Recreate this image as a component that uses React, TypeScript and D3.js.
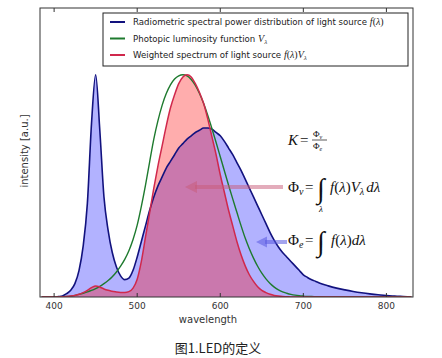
import React from "react";
import * as d3 from "d3";

const WAVELENGTH = [
  385, 390, 395, 400, 405, 410, 415, 420, 425, 430, 435, 440, 445, 450, 455, 460, 465, 470, 475, 480,
  485, 490, 495, 500, 505, 510, 515, 520, 525, 530, 535, 540, 545, 550, 555, 560, 565, 570, 575, 580,
  585, 590, 595, 600, 605, 610, 615, 620, 625, 630, 635, 640, 645, 650, 655, 660, 665, 670, 675, 680,
  685, 690, 695, 700, 705, 710, 715, 720, 730, 740, 750, 760, 770, 780, 790, 800, 810, 820, 830,
];

// Radiometric spectral power distribution f(λ)
const SPD = [
  0, 0, 0, 0, 0.002, 0.005, 0.015, 0.03, 0.06, 0.12, 0.23, 0.42, 0.78, 1.0, 0.75, 0.45, 0.3, 0.2, 0.135, 0.095,
  0.078, 0.085, 0.12, 0.18, 0.25, 0.32, 0.39, 0.45, 0.5, 0.54, 0.58, 0.61, 0.64, 0.67, 0.69, 0.71, 0.725, 0.74, 0.75, 0.76,
  0.76, 0.755, 0.74, 0.725, 0.7, 0.67, 0.64, 0.605, 0.57, 0.53, 0.49, 0.45, 0.41, 0.37, 0.33, 0.29, 0.255, 0.225, 0.2, 0.18,
  0.16, 0.14, 0.12, 0.1, 0.088, 0.078, 0.07, 0.062, 0.05, 0.04, 0.032, 0.025, 0.019, 0.014, 0.01, 0.007, 0.004, 0.002, 0,
];

// Photopic luminosity function V(λ)
const PHOTOPIC = [
  0.00006, 0.00012, 0.00022, 0.0004, 0.00064, 0.0012, 0.00218, 0.004, 0.0073, 0.0116, 0.01684, 0.023, 0.0298, 0.038, 0.048, 0.06, 0.0739, 0.091, 0.1126, 0.139,
  0.1693, 0.208, 0.2586, 0.323, 0.4073, 0.503, 0.6082, 0.71, 0.7932, 0.862, 0.9149, 0.954, 0.9803, 0.995, 1.0, 0.995, 0.9786, 0.952, 0.9154, 0.87,
  0.8163, 0.757, 0.6949, 0.631, 0.5668, 0.503, 0.4412, 0.381, 0.321, 0.265, 0.217, 0.175, 0.1382, 0.107, 0.0816, 0.061, 0.0446, 0.032, 0.0232, 0.017,
  0.0119, 0.0082, 0.0057, 0.0041, 0.0029, 0.0021, 0.0015, 0.001, 0.0005, 0.00025, 0.00012, 0.00006, 0, 0, 0, 0, 0, 0, 0,
];

// Weighted spectrum f(λ)V(λ)
const WEIGHTED = [
  0, 0, 0, 0, 0, 0.001, 0.002, 0.004, 0.007, 0.012, 0.02, 0.03, 0.042, 0.05, 0.045, 0.036, 0.03, 0.026, 0.022, 0.02,
  0.02, 0.024, 0.04, 0.08, 0.16, 0.27, 0.38, 0.49, 0.59, 0.68, 0.77, 0.85, 0.91, 0.96, 0.99, 1.0, 0.99, 0.96, 0.92, 0.87,
  0.8, 0.72, 0.64, 0.55, 0.47, 0.39, 0.32, 0.25, 0.19, 0.14, 0.1, 0.07, 0.046, 0.03, 0.02, 0.012, 0.007, 0.004, 0.002, 0.001,
  0, 0, 0, 0, 0, 0, 0, 0, 0, 0, 0, 0, 0, 0, 0, 0, 0, 0, 0,
];

const X_TICKS = [400, 500, 600, 700, 800];

const LEFT = 40, RIGHT = 413, TOP = 8, BOTTOM = 297;

export default function App() {
  const x = d3.scaleLinear().domain([383, 832]).range([LEFT, RIGHT]);
  const y = d3.scaleLinear().domain([0, 1.3]).range([BOTTOM, TOP]);

  const pts = (vals: number[]) => WAVELENGTH.map((w, i) => [w, vals[i]] as [number, number]);

  const area = d3
    .area<[number, number]>()
    .x((d) => x(d[0]))
    .y0(y(0))
    .y1((d) => y(d[1]))
    .curve(d3.curveMonotoneX);
  const line = d3
    .line<[number, number]>()
    .x((d) => x(d[0]))
    .y((d) => y(d[1]))
    .curve(d3.curveMonotoneX);

  const sans = "'DejaVu Sans', sans-serif";
  const serif = "'Liberation Serif', 'DejaVu Serif', serif";

  const blue = "#12127e";
  const green = "#1e7a2e";
  const red = "#d0284c";

  return (
    <svg width={442} height={358} style={{ display: "block", position: "absolute", left: 0, top: 0 }}>
      <rect x={0} y={0} width={442} height={358} fill="#fff" />
      <defs>
        <clipPath id="plot">
          <rect x={LEFT} y={TOP} width={RIGHT - LEFT} height={BOTTOM - TOP} />
        </clipPath>
      </defs>
      <g clipPath="url(#plot)">
        <path d={area(pts(SPD)) || ""} fill="rgb(0,0,255)" fillOpacity={0.3} />
        <path d={area(pts(WEIGHTED)) || ""} fill="rgb(255,0,0)" fillOpacity={0.32} />
        <path d={line(pts(SPD)) || ""} fill="none" stroke={blue} strokeWidth={1.6} />
        <path d={line(pts(PHOTOPIC)) || ""} fill="none" stroke={green} strokeWidth={1.4} />
        <path d={line(pts(WEIGHTED)) || ""} fill="none" stroke={red} strokeWidth={1.5} />
      </g>

      {/* frame */}
      <rect x={LEFT} y={TOP} width={RIGHT - LEFT} height={BOTTOM - TOP} fill="none" stroke="#333" strokeWidth={1} />
      {X_TICKS.map((t) => (
        <g key={t}>
          <line x1={x(t)} x2={x(t)} y1={BOTTOM} y2={BOTTOM - 4} stroke="#333" />
          <line x1={x(t)} x2={x(t)} y1={TOP} y2={TOP + 4} stroke="#333" />
          <text x={x(t)} y={309} textAnchor="middle" fontFamily={sans} fontSize={9} fill="#333">
            {t}
          </text>
        </g>
      ))}
      <text x={208} y={323} textAnchor="middle" fontFamily={sans} fontSize={10} fill="#333">
        wavelength
      </text>
      <text
        transform="translate(28,151) rotate(-90)"
        textAnchor="middle"
        fontFamily={sans}
        fontSize={10}
        fill="#333"
      >
        intensity [a.u.]
      </text>

      {/* legend */}
      <rect x={103} y={13} width={305} height={53} fill="#fff" stroke="#222" strokeWidth={1} />
      <line x1={110} x2={125} y1={22} y2={22} stroke={blue} strokeWidth={2} />
      <line x1={110} x2={125} y1={38.5} y2={38.5} stroke={green} strokeWidth={2} />
      <line x1={110} x2={125} y1={55} y2={55} stroke={red} strokeWidth={2} />
      <text x={133} y={25} fontFamily={sans} fontSize={8.6} fill="#222">
        Radiometric spectral power distribution of light source{" "}
        <tspan fontFamily={serif} fontStyle="italic" fontSize={10}>f</tspan>
        <tspan fontFamily={serif} fontSize={10}>(</tspan>
        <tspan fontFamily={serif} fontStyle="italic" fontSize={10}>λ</tspan>
        <tspan fontFamily={serif} fontSize={10}>)</tspan>
      </text>
      <text x={133} y={41.5} fontFamily={sans} fontSize={8.6} fill="#222">
        Photopic luminosity function{" "}
        <tspan fontFamily={serif} fontStyle="italic" fontSize={10}>V</tspan>
        <tspan fontFamily={serif} fontStyle="italic" fontSize={7} dy={2}>λ</tspan>
      </text>
      <text x={133} y={58} fontFamily={sans} fontSize={8.6} fill="#222">
        Weighted spectrum of light source{" "}
        <tspan fontFamily={serif} fontStyle="italic" fontSize={10}>f</tspan>
        <tspan fontFamily={serif} fontSize={10}>(</tspan>
        <tspan fontFamily={serif} fontStyle="italic" fontSize={10}>λ</tspan>
        <tspan fontFamily={serif} fontSize={10}>)</tspan>
        <tspan fontFamily={serif} fontStyle="italic" fontSize={10}>V</tspan>
        <tspan fontFamily={serif} fontStyle="italic" fontSize={7} dy={2}>λ</tspan>
      </text>

      {/* arrows */}
      <line x1={283} x2={195} y1={187} y2={187} stroke="#c85a78" strokeOpacity={0.5} strokeWidth={4} />
      <path d="M185,187 L197,181 L197,193 Z" fill="#c85a78" fillOpacity={0.5} />
      <line x1={287} x2={265} y1={242} y2={242} stroke="#5a5ae0" strokeOpacity={0.55} strokeWidth={4} />
      <path d="M256,242 L267,236.5 L267,247.5 Z" fill="#5a5ae0" fillOpacity={0.55} />

      {/* formulas */}
      <g fontFamily={serif} fill="#111">
        <text x={288} y={145} fontSize={15} fontStyle="italic">K</text>
        <text x={300} y={145} fontSize={15}>=</text>
        <text x={313} y={137} fontSize={9}>Φ<tspan fontStyle="italic" fontSize={6} dy={1.5}>v</tspan></text>
        <line x1={312} x2={327} y1={140} y2={140} stroke="#111" strokeWidth={0.7} />
        <text x={313} y={149} fontSize={9}>Φ<tspan fontStyle="italic" fontSize={6} dy={1.5}>e</tspan></text>

        <text x={288} y={192} fontSize={15}>Φ<tspan fontStyle="italic" fontSize={10} dy={3}>v</tspan></text>
        <text x={305} y={192} fontSize={15}>=</text>
        <text x={317} y={198} fontSize={28} fontStyle="italic">∫</text>
        <text x={319} y={212} fontSize={9} fontStyle="italic">λ</text>
        <text x={330} y={192} fontSize={15}>
          <tspan fontStyle="italic">f</tspan>(<tspan fontStyle="italic">λ</tspan>)<tspan fontStyle="italic">V</tspan>
          <tspan fontStyle="italic" fontSize={10} dy={3}>λ</tspan>
          <tspan dy={-3} dx={2} fontStyle="italic">dλ</tspan>
        </text>

        <text x={288} y={245} fontSize={15}>Φ<tspan fontStyle="italic" fontSize={10} dy={3}>e</tspan></text>
        <text x={305} y={245} fontSize={15}>=</text>
        <text x={317} y={251} fontSize={28} fontStyle="italic">∫</text>
        <text x={331} y={245} fontSize={15}>
          <tspan fontStyle="italic">f</tspan>(<tspan fontStyle="italic">λ</tspan>)<tspan fontStyle="italic">dλ</tspan>
        </text>
      </g>

      {/* caption */}
      <text x={218} y={353} textAnchor="middle" fontFamily="'Noto Sans CJK SC', sans-serif" fontSize={13} fill="#222">
        图1.LED的定义
      </text>
    </svg>
  );
}
